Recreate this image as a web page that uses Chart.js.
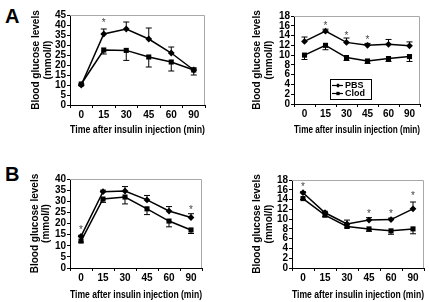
<!DOCTYPE html>
<html>
<head>
<meta charset="utf-8">
<script src="https://cdn.jsdelivr.net/npm/chart.js@4/dist/chart.umd.min.js"></script>
<style>
  body { margin: 0; background: #fff; width: 430px; height: 302px; position: relative; overflow: hidden; }
  .panel { position: absolute; }
  .tag { position: absolute; font: bold 20px 'Liberation Sans', Arial, sans-serif; color: #000; line-height: 1; }
</style>
</head>
<body>
<div class="tag" style="left:5px;top:6px">A</div>
<div class="tag" style="left:5px;top:164px">B</div>
<div class="panel" style="left:0;top:0;width:215px;height:150px"><canvas id="aLeft"></canvas></div>
<div class="panel" style="left:215px;top:0;width:215px;height:150px"><canvas id="aRight"></canvas></div>
<div class="panel" style="left:0;top:150px;width:215px;height:152px"><canvas id="bLeft"></canvas></div>
<div class="panel" style="left:215px;top:150px;width:215px;height:152px"><canvas id="bRight"></canvas></div>
<script>
// shared labels
const minutes = ['0', '15', '30', '45', '60', '90'];
const seriesNames = ['PBS', 'Clod'];
const yTitle = ['Blood glucose levels', '(mmol/l)'];
const xTitle = 'Time after insulin injection (min)';

// panel A, left
const aLeftPbs = [10, 35.5, 38, 33, 26, 17.5];
const aLeftPbsErr = [0.6, 2.5, 3.5, 5.5, 3, 1];
const aLeftClod = [10.5, 27.5, 27.3, 24, 21.5, 17.5];
const aLeftClodErr = [0.8, 2, 5, 5, 4.5, 2.5];
const aLeftStars = [null, 42, null, null, null, null];

// panel A, right
const aRightPbs = [12.8, 14.9, 12.6, 12.0, 12.2, 11.9];
const aRightPbsErr = [0.9, 0.4, 0.9, 0.4, 1.0, 0.8];
const aRightClod = [10.0, 12.0, 9.5, 8.8, 9.3, 9.7];
const aRightClodErr = [0.9, 0.9, 0.6, 0.5, 0.6, 1.0];
const aRightStars = [null, 16.3, 14.3, 13.4, null, null];

// panel B, left
const bLeftPbs = [14.2, 34.3, 34.6, 30.6, 25.6, 22.7];
const bLeftPbsErr = [0.5, 0.7, 2.0, 2.0, 2.0, 1.7];
const bLeftClod = [12.1, 31, 31.9, 26.6, 21.1, 17.1];
const bLeftClodErr = [0.5, 1.5, 3.1, 2.6, 2.6, 1.6];
const bLeftStars = [18, null, null, null, null, 27];

// panel B, right
const bRightPbs = [15.4, 11.3, 9.0, 9.8, 9.9, 12.1];
const bRightPbsErr = [0.2, 0.3, 0.8, 0.5, 0.3, 1.4];
const bRightClod = [14.2, 10.8, 8.5, 8.0, 7.6, 8.0];
const bRightClodErr = [0.2, 0.3, 0.3, 0.5, 0.7, 1.0];
const bRightStars = [16.9, null, null, 11.5, 11.5, 15.2];

const FONT = "'Liberation Sans Narrow', 'Arial Narrow', 'Liberation Sans', Arial, sans-serif";

function drawMark(ctx, style, x, y, r) {
  ctx.beginPath();
  if (style === 'rectRot') {
    ctx.moveTo(x, y - r); ctx.lineTo(x + r, y); ctx.lineTo(x, y + r); ctx.lineTo(x - r, y);
  } else {
    ctx.rect(x - r * 0.75, y - r * 0.75, r * 1.5, r * 1.5);
  }
  ctx.closePath();
  ctx.fill();
}

const extras = {
  id: 'extras',
  beforeDatasetsDraw(chart, args, opts) {
    const { ctx, chartArea: a, scales: { x, y } } = chart;
    ctx.save();
    // light frame on top and right
    ctx.strokeStyle = '#a8a8a8';
    ctx.lineWidth = 1;
    ctx.beginPath();
    ctx.moveTo(a.left, a.top + 0.5);
    ctx.lineTo(a.right - 0.5, a.top + 0.5);
    ctx.lineTo(a.right - 0.5, a.bottom);
    ctx.stroke();
    // error bars
    ctx.strokeStyle = '#000';
    chart.data.datasets.forEach(ds => {
      ds.data.forEach((v, i) => {
        const px = x.getPixelForValue(i);
        const y0 = y.getPixelForValue(v);
        const y1 = y.getPixelForValue(v + ds.errSign * ds.err[i]);
        ctx.beginPath();
        ctx.moveTo(px, y0); ctx.lineTo(px, y1);
        ctx.moveTo(px - 3, y1); ctx.lineTo(px + 3, y1);
        ctx.stroke();
      });
    });
    ctx.restore();
  },
  afterDatasetsDraw(chart, args, opts) {
    const { ctx, chartArea: a, scales: { x, y } } = chart;
    ctx.save();
    // significance marks
    ctx.fillStyle = '#444';
    ctx.font = '10px ' + FONT;
    ctx.textAlign = 'center';
    ctx.textBaseline = 'alphabetic';
    (opts.stars || []).forEach((v, i) => {
      if (v === null) return;
      ctx.fillText('*', x.getPixelForValue(i), y.getPixelForValue(v) + 5);
    });
    // boxed legend inside the plot
    if (opts.legend) {
      const lx = a.left + 36, ly = a.top + 63;
      ctx.strokeStyle = '#000';
      ctx.lineWidth = 1;
      ctx.strokeRect(lx + 0.5, ly + 0.5, 41, 20);
      ctx.fillStyle = '#000';
      ctx.font = 'bold 9px ' + FONT;
      ctx.textAlign = 'left';
      ctx.textBaseline = 'middle';
      chart.data.datasets.forEach((ds, k) => {
        const ry = ly + 6.5 + k * 8;
        ctx.beginPath();
        ctx.moveTo(lx + 2, ry); ctx.lineTo(lx + 13, ry);
        ctx.lineWidth = 1.2;
        ctx.stroke();
        drawMark(ctx, ds.pointStyle, lx + 8, ry, 2.2);
        ctx.fillText(ds.label, lx + 15, ry + 0.5);
      });
    }
    ctx.restore();
  }
};

function makePanel(id, box, area, titles, pbs, pbsErr, clod, clodErr, stars, yMax, yStep, legend) {
  const tickFont = { family: FONT, size: 10, weight: 'bold', lineHeight: 1 };
  const titleFont = { family: FONT, size: 10, weight: 'bold', lineHeight: 1.15 };
  const lh = 11.5;
  new Chart(document.getElementById(id), {
    type: 'line',
    data: {
      labels: minutes,
      datasets: [
        { label: seriesNames[0], data: pbs, err: pbsErr, errSign: 1, pointStyle: 'rectRot', pointRadius: 3.4 },
        { label: seriesNames[1], data: clod, err: clodErr, errSign: -1, pointStyle: 'rect', pointRadius: 3.6 }
      ].map(ds => Object.assign(ds, {
        borderColor: '#000', backgroundColor: '#000', pointBackgroundColor: '#000',
        pointBorderWidth: 0, borderWidth: 1.5, tension: 0, fill: false
      }))
    },
    options: {
      responsive: true,
      maintainAspectRatio: false,
      animation: false,
      layout: {
        padding: { left: 0, top: area.top - box.top, right: box.left + box.width - area.right, bottom: 0 }
      },
      plugins: {
        legend: { display: false },
        tooltip: { enabled: false },
        extras: { stars: stars, legend: legend }
      },
      scales: {
        x: {
          offset: true,
          grid: { display: true, drawOnChartArea: false, tickLength: 3, color: '#000', offset: true },
          border: { display: true, color: '#000', width: 1 },
          ticks: { color: '#000', font: tickFont, padding: 2, maxRotation: 0, autoSkip: false },
          title: { display: true, text: xTitle, color: '#000', font: titleFont,
                   padding: { top: 0, bottom: box.top + box.height - titles.x - lh / 2 } },
          afterFit: s => { s.height = box.top + box.height - area.bottom; }
        },
        y: {
          min: 0, max: yMax,
          grid: { display: true, drawOnChartArea: false, tickLength: 3, color: '#000' },
          border: { display: true, color: '#000', width: 1 },
          ticks: { stepSize: yStep, color: '#000', font: tickFont, padding: 1, autoSkip: false },
          title: { display: true, text: yTitle, color: '#000', font: titleFont,
                   padding: { top: titles.y - box.left - lh / 2, bottom: 0 } },
          afterFit: s => { s.width = area.left - box.left; }
        }
      }
    },
    plugins: [extras]
  });
}

makePanel('aLeft', { left: 0, top: 0, width: 215, height: 150 },
  { left: 70, top: 15, right: 205, bottom: 105 }, { x: 130, y: 36.5 },
  aLeftPbs, aLeftPbsErr, aLeftClod, aLeftClodErr, aLeftStars, 45, 5, false);
makePanel('aRight', { left: 215, top: 0, width: 215, height: 150 },
  { left: 294, top: 16, right: 420, bottom: 104 }, { x: 130, y: 257.5 },
  aRightPbs, aRightPbsErr, aRightClod, aRightClodErr, aRightStars, 18, 2, true);
makePanel('bLeft', { left: 0, top: 150, width: 215, height: 152 },
  { left: 70, top: 179, right: 202, bottom: 268 }, { x: 295, y: 35 },
  bLeftPbs, bLeftPbsErr, bLeftClod, bLeftClodErr, bLeftStars, 40, 5, false);
makePanel('bRight', { left: 215, top: 150, width: 215, height: 152 },
  { left: 292, top: 180, right: 424, bottom: 268 }, { x: 295, y: 257.5 },
  bRightPbs, bRightPbsErr, bRightClod, bRightClodErr, bRightStars, 18, 2, false);
</script>
</body>
</html>
